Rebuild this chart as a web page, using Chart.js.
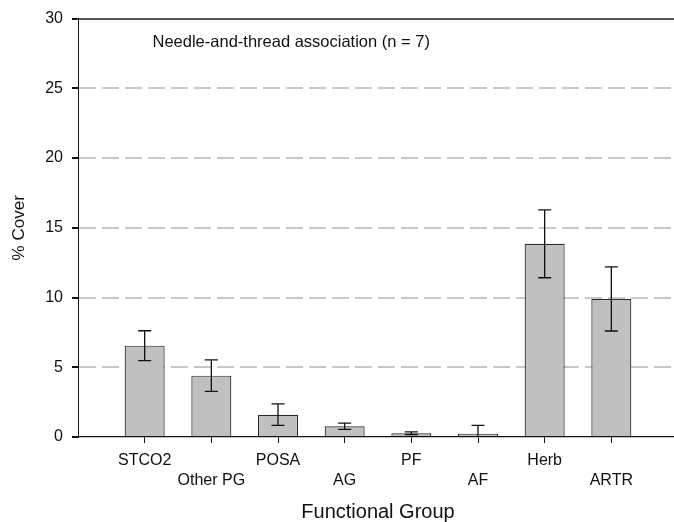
<!DOCTYPE html>
<html>
<head>
<meta charset="utf-8">
<script src="https://cdn.jsdelivr.net/npm/chart.js@4"></script>
<style>
  html, body { margin: 0; padding: 0; background: #fff; overflow: hidden; }
  #wrap { width: 678px; height: 522px; position: relative; }
</style>
</head>
<body>
<div id="wrap"><canvas id="mycanvas"></canvas></div>
<script>
// functional groups and their mean % cover (± SE)
var groups = ['STCO2', 'Other PG', 'POSA', 'AG', 'PF', 'AF', 'Herb', 'ARTR'];
var meanCover = [6.55, 4.4, 1.6, 0.77, 0.27, 0.24, 13.85, 9.9];
var seCover = [1.07, 1.13, 0.77, 0.22, 0.1, 0.6, 2.43, 2.3];
var yTicks = [0, 5, 10, 15, 20, 25, 30];
var note = 'Needle-and-thread association (n = 7)';

var FONT = 'Liberation Sans, Arial, sans-serif';

// error bars, clipped to the plot area
var errorBars = {
	id: 'errorBars',
	afterDatasetsDraw: function(chart){
		var ctx = chart.ctx, area = chart.chartArea;
		var xs = chart.scales.x, ys = chart.scales.y;
		ctx.save();
		ctx.beginPath();
		ctx.rect(area.left, area.top, area.right - area.left, area.bottom - area.top);
		ctx.clip();
		ctx.strokeStyle = '#111';
		ctx.lineWidth = 1.3;
		for(var i in meanCover){
			var x = xs.getPixelForValue(+i + 1);
			var hi = ys.getPixelForValue(meanCover[i] + seCover[i]);
			var lo = ys.getPixelForValue(meanCover[i] - seCover[i]);
			ctx.beginPath();
			ctx.moveTo(x, hi); ctx.lineTo(x, lo);
			ctx.moveTo(x - 6.5, hi); ctx.lineTo(x + 6.5, hi);
			ctx.moveTo(x - 6.5, lo); ctx.lineTo(x + 6.5, lo);
			ctx.stroke();
		}
		ctx.restore();
	}
};

// the association label inside the plot
var noteText = {
	id: 'noteText',
	afterDraw: function(chart){
		var ctx = chart.ctx, area = chart.chartArea;
		ctx.save();
		ctx.font = '16.5px ' + FONT;
		ctx.fillStyle = '#111';
		ctx.textBaseline = 'middle';
		ctx.textAlign = 'left';
		ctx.fillText(note, area.left + 74.5, area.top + 23.5);
		ctx.restore();
	}
};

var chartdata = {
	datasets: [{
		label: '% Cover',
		data: meanCover.map(function(v, i){ return {x: i + 1, y: v}; }),
		backgroundColor: '#c0c0c0',
		borderColor: '#2a2a2a',
		borderWidth: 1.2,
		categoryPercentage: 1,
		barPercentage: 0.6
	}]
};

var ctx = document.getElementById('mycanvas');
var barGraph = new Chart(ctx, {
	type: 'bar',
	data: chartdata,
	plugins: [errorBars, noteText],
	options: {
		responsive: true,
		maintainAspectRatio: false,
		animation: false,
		layout: { padding: { top: 10.5, right: 0, bottom: 0, left: 0 } },
		plugins: {
			legend: { display: false },
			tooltip: { enabled: false }
		},
		scales: {
			x: {
				type: 'linear',
				min: 0,
				max: groups.length + 1,
				offset: false,
				afterBuildTicks: function(scale){
					scale.ticks = groups.map(function(g, i){ return {value: i + 1}; });
				},
				ticks: {
					autoSkip: false,
					maxRotation: 0,
					minRotation: 0,
					padding: 8,
					color: '#111',
					font: { family: FONT, size: 16, lineHeight: 1.25 },
					callback: function(v, i){
						var name = groups[v - 1];
						return i % 2 ? ['', name] : name;
					}
				},
				grid: { offset: false, drawOnChartArea: false, drawTicks: true, tickLength: 6, tickColor: '#111', tickWidth: 1 },
				border: { display: true, color: '#111', width: 1.3 },
				title: {
					display: true,
					text: 'Functional Group',
					color: '#111',
					font: { family: FONT, size: 20, lineHeight: 1.0 },
					padding: { top: 3, bottom: 0 }
				}
			},
			xTop: {
				type: 'linear',
				position: 'top',
				min: 0,
				max: groups.length + 1,
				offset: false,
				ticks: { display: false },
				grid: { display: false },
				border: { display: true, color: '#555', width: 2 }
			},
			y: {
				min: 0,
				max: 30,
				afterBuildTicks: function(scale){
					scale.ticks = yTicks.map(function(v){ return {value: v}; });
				},
				afterFit: function(scale){ scale.width = 78; },
				ticks: {
					padding: 9,
					color: '#111',
					font: { family: FONT, size: 16 }
				},
				grid: {
					drawTicks: true,
					tickLength: 6,
					tickColor: '#111',
					lineWidth: 2,
					color: function(c){
						var v = c.tick ? c.tick.value : 0;
						return (v > 0 && v < 30) ? '#c8c8c8' : 'rgba(0,0,0,0)';
					}
				},
				border: { display: true, color: '#111', width: 1, dash: [17, 6] },
				title: {
					display: true,
					text: '% Cover',
					color: '#111',
					font: { family: FONT, size: 17 },
					padding: { top: 9, bottom: 0 }
				}
			}
		}
	}
});
</script>
</body>
</html>
